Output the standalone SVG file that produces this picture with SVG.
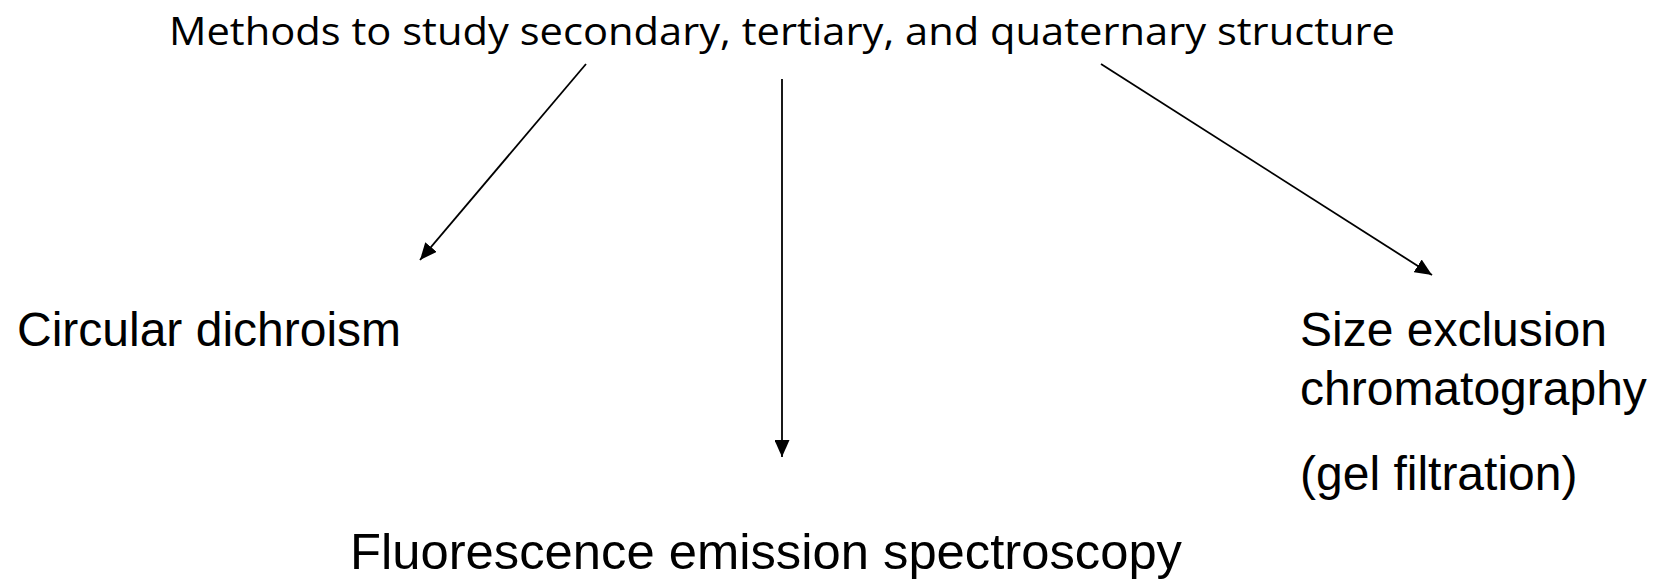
<svg xmlns="http://www.w3.org/2000/svg" width="1659" height="582" viewBox="0 0 1659 582">
<style>
.t{font-family:"Open Sans","Liberation Sans",sans-serif;fill:#000}
.l{font-family:"Liberation Sans",Arial,sans-serif;fill:#000}
.c{stroke:#000;stroke-width:1.8;fill:none}
</style>
<defs>
<marker id="ah" viewBox="0 0 17 15" refX="17" refY="7.5" markerWidth="17" markerHeight="15" markerUnits="userSpaceOnUse" orient="auto">
<path d="M0,0 L17,7.5 L0,15 z" fill="#000"/>
</marker>
</defs>
<rect width="1659" height="582" fill="#fff"/>
<g id="title"><text class="t" x="169" y="45" font-size="39" textLength="1226" lengthAdjust="spacingAndGlyphs">Methods to study secondary, tertiary, and quaternary structure</text></g>
<g id="cd"><text class="l" x="17" y="346" font-size="48">Circular dichroism</text></g>
<g id="fl"><text class="l" x="350" y="569" font-size="50" textLength="832" lengthAdjust="spacingAndGlyphs">Fluorescence emission spectroscopy</text></g>
<g id="sec"><text class="l" font-size="48"><tspan x="1300" y="346">Size exclusion</tspan><tspan x="1300" y="405">chromatography</tspan><tspan x="1300" y="490">(gel filtration)</tspan></text></g>
<g id="connectors">
<line class="c" x1="586" y1="64" x2="420" y2="260" marker-end="url(#ah)"/>
<line class="c" x1="782" y1="79" x2="782" y2="457" marker-end="url(#ah)"/>
<line class="c" x1="1101" y1="64" x2="1432" y2="275" marker-end="url(#ah)"/>
</g>
</svg>
